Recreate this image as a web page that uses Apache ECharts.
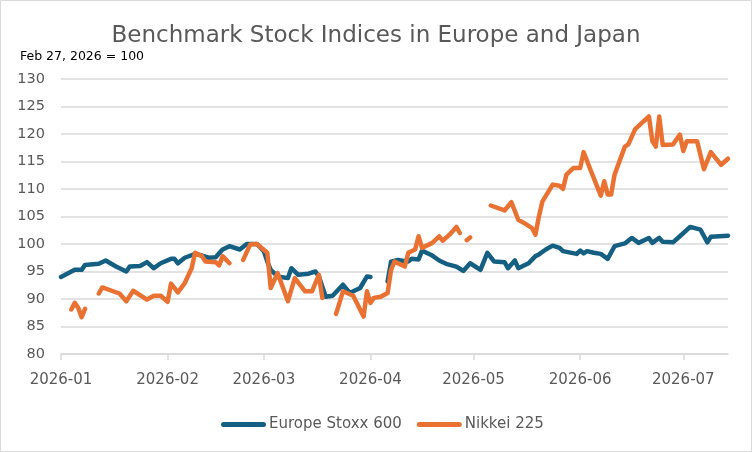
<!DOCTYPE html>
<html>
<head>
<meta charset="utf-8">
<script src="https://cdn.jsdelivr.net/npm/echarts@6/dist/echarts.min.js"></script>
<style>
  html, body { margin: 0; padding: 0; background: #fff; }
  #chart { width: 752px; height: 452px; }
</style>
</head>
<body>
<div id="chart"></div>
<script>
// Europe Stoxx 600 (null = gap in the line)
var euroDates = ['2026-01-01','2026-01-05','2026-01-07','2026-01-08','2026-01-12','2026-01-14','2026-01-17','2026-01-20','2026-01-21','2026-01-24',
  '2026-01-26','2026-01-28','2026-01-30','2026-02-02','2026-02-03','2026-02-04','2026-02-06','2026-02-09','2026-02-11','2026-02-13',
  '2026-02-15','2026-02-16','2026-02-17','2026-02-19','2026-02-22','2026-02-24','2026-02-27','2026-03-01','2026-03-02','2026-03-03',
  '2026-03-05','2026-03-08','2026-03-09','2026-03-11','2026-03-14','2026-03-16','2026-03-17','2026-03-19','2026-03-21','2026-03-24',
  '2026-03-26','2026-03-29','2026-03-31','2026-04-01','2026-04-03','2026-04-06','2026-04-07','2026-04-09','2026-04-12','2026-04-13',
  '2026-04-15','2026-04-16','2026-04-17','2026-04-19','2026-04-21','2026-04-23','2026-04-26','2026-04-28','2026-04-30','2026-05-03',
  '2026-05-05','2026-05-07','2026-05-10','2026-05-11','2026-05-13','2026-05-14','2026-05-17','2026-05-19','2026-05-20','2026-05-22',
  '2026-05-24','2026-05-26','2026-05-27','2026-05-31','2026-06-01','2026-06-02','2026-06-03','2026-06-05','2026-06-07','2026-06-09',
  '2026-06-11','2026-06-14','2026-06-16','2026-06-18','2026-06-21','2026-06-22','2026-06-24','2026-06-25','2026-06-28','2026-06-30',
  '2026-07-03','2026-07-06','2026-07-08','2026-07-09','2026-07-14'];
var euroValues = [94.0,95.3,95.3,96.2,96.4,97.0,95.9,95.0,95.9,96.0,
  96.7,95.6,96.5,97.3,97.3,96.5,97.5,98.2,97.9,97.5,
  97.6,98.3,99.0,99.6,99.0,100.0,100.0,98.7,96.8,95.3,
  94.1,93.8,95.6,94.4,94.6,95.0,94.1,90.4,90.6,92.6,
  91.1,92.0,94.1,94.0,null,93.2,96.8,97.1,96.8,97.3,
  97.2,98.8,98.5,97.9,97.0,96.4,95.9,95.1,96.5,95.3,
  98.4,96.8,96.7,95.6,97.0,95.6,96.5,97.8,98.1,99.0,
  99.7,99.3,98.7,98.2,98.8,98.3,98.7,98.4,98.2,97.3,
  99.6,100.1,101.1,100.2,101.1,100.2,101.1,100.4,100.3,101.4,
  103.1,102.6,100.3,101.3,101.5];

// Nikkei 225 (null = gap in the line)
var nikkeiDates = ['2026-01-04','2026-01-05','2026-01-06','2026-01-07','2026-01-08','2026-01-10','2026-01-12','2026-01-13','2026-01-18','2026-01-20',
  '2026-01-22','2026-01-26','2026-01-28','2026-01-30','2026-02-01','2026-02-02','2026-02-04','2026-02-06','2026-02-08','2026-02-09',
  '2026-02-11','2026-02-12','2026-02-15','2026-02-16','2026-02-17','2026-02-19','2026-02-21','2026-02-23','2026-02-25','2026-02-27',
  '2026-03-02','2026-03-03','2026-03-05','2026-03-08','2026-03-10','2026-03-13','2026-03-15','2026-03-17','2026-03-18','2026-03-20',
  '2026-03-22','2026-03-23','2026-03-24','2026-03-27','2026-03-30','2026-03-31','2026-04-01','2026-04-02','2026-04-04','2026-04-06',
  '2026-04-07','2026-04-08','2026-04-11','2026-04-12','2026-04-14','2026-04-15','2026-04-16','2026-04-19','2026-04-21','2026-04-22',
  '2026-04-24','2026-04-26','2026-04-27','2026-04-28','2026-04-29','2026-04-30','2026-05-02','2026-05-06','2026-05-10','2026-05-12',
  '2026-05-14','2026-05-16','2026-05-18','2026-05-19','2026-05-20','2026-05-21','2026-05-24','2026-05-26','2026-05-27','2026-05-28',
  '2026-05-30','2026-06-01','2026-06-02','2026-06-04','2026-06-07','2026-06-08','2026-06-09','2026-06-10','2026-06-11','2026-06-14',
  '2026-06-15','2026-06-17','2026-06-21','2026-06-22','2026-06-23','2026-06-24','2026-06-25','2026-06-28','2026-06-30','2026-07-01',
  '2026-07-02','2026-07-05','2026-07-07','2026-07-09','2026-07-12','2026-07-14'];
var nikkeiValues = [88.1,89.3,88.4,86.7,88.2,null,91.0,92.1,91.0,89.6,
  91.5,89.9,90.6,90.6,89.5,92.8,91.2,92.9,95.6,98.4,
  97.8,96.8,96.7,96.1,97.8,96.5,null,97.1,99.9,100.0,
  98.4,92.0,94.7,89.6,93.8,91.4,91.4,94.4,90.2,null,
  87.3,89.3,91.4,90.6,86.8,91.4,89.3,90.2,90.4,91.1,
  95.3,96.8,95.9,98.4,99.0,101.4,99.3,100.2,101.4,100.6,
  101.7,103.1,102.0,null,100.7,101.2,null,107.0,106.1,107.6,
  104.4,103.7,102.9,101.7,105.0,107.7,110.8,110.6,110.0,112.6,
  113.8,113.8,116.7,113.5,108.8,111.4,109.0,109.0,112.6,117.7,
  118.1,120.9,123.2,118.7,117.7,123.2,118.0,118.1,119.9,116.9,
  118.7,118.7,113.6,116.7,114.4,115.5];

var seriesNames = ['Europe Stoxx 600', 'Nikkei 225'];
var yTicks = { min: 80, max: 130, step: 5 };

function zip(dates, values) {
  return dates.map(function (d, i) { return [d, values[i]]; });
}

var font = 'DejaVu Sans';
var myChart = echarts.init(document.getElementById('chart'), null, { renderer: 'canvas' });
var option = {
  animation: false,
  title: {
    text: 'Benchmark Stock Indices in Europe and Japan',
    left: 'center',
    top: 20,
    textStyle: { fontFamily: font, fontSize: 23, fontWeight: 'normal', color: '#595959' }
  },
  graphic: [
    {
      type: 'text', left: 20, top: 50,
      style: { text: 'Feb 27, 2026 = 100', font: '12.5px "DejaVu Sans"', fill: '#000' }
    },
    {
      type: 'rect', silent: true,
      shape: { x: 0.5, y: 0.5, width: 751, height: 451 },
      style: { fill: 'none', stroke: '#d9d9d9', lineWidth: 1 }
    }
  ],
  legend: {
    left: 216,
    top: 412,
    itemWidth: 45,
    itemHeight: 5,
    itemGap: 15,
    icon: 'path://M5,0 H85 A5,5 0 0 1 85,10 H5 A5,5 0 0 1 5,0 Z',
    textStyle: { fontFamily: font, fontSize: 15, color: '#595959', padding: [0, 0, 0, -2] },
    data: seriesNames
  },
  grid: { left: 61, right: 24, top: 79, bottom: 98, containLabel: false },
  xAxis: {
    type: 'time',
    min: '2026-01-01',
    max: '2026-07-14',
    minInterval: 28 * 86400000,
    maxInterval: 31 * 86400000,
    axisLine: { show: true, lineStyle: { color: '#d9d9d9', width: 1.5 } },
    axisTick: { show: true, length: 6, lineStyle: { color: '#d9d9d9', width: 1.5 } },
    splitLine: { show: false },
    axisLabel: {
      formatter: '{yyyy}-{MM}',
      fontFamily: font, fontSize: 15, color: '#595959',
      margin: 0,
      padding: [19, 0, 0, 0],
      verticalAlign: 'top',
      hideOverlap: false
    }
  },
  yAxis: {
    type: 'value',
    min: yTicks.min,
    max: yTicks.max,
    interval: yTicks.step,
    axisLine: { show: false },
    axisTick: { show: false },
    splitLine: { lineStyle: { color: '#d9d9d9', width: 1.5 } },
    axisLabel: { fontFamily: font, fontSize: 14.5, color: '#595959', margin: 16 }
  },
  series: [
    {
      name: seriesNames[0],
      type: 'line',
      data: zip(euroDates, euroValues),
      symbol: 'none',
      connectNulls: false,
      color: '#156082',
      lineStyle: { width: 4.5, color: '#156082', join: 'round', cap: 'round' }
    },
    {
      name: seriesNames[1],
      type: 'line',
      data: zip(nikkeiDates, nikkeiValues),
      symbol: 'none',
      connectNulls: false,
      color: '#E97132',
      lineStyle: { width: 4.5, color: '#E97132', join: 'round', cap: 'round' }
    }
  ]
};
myChart.setOption(option);
</script>
</body>
</html>
